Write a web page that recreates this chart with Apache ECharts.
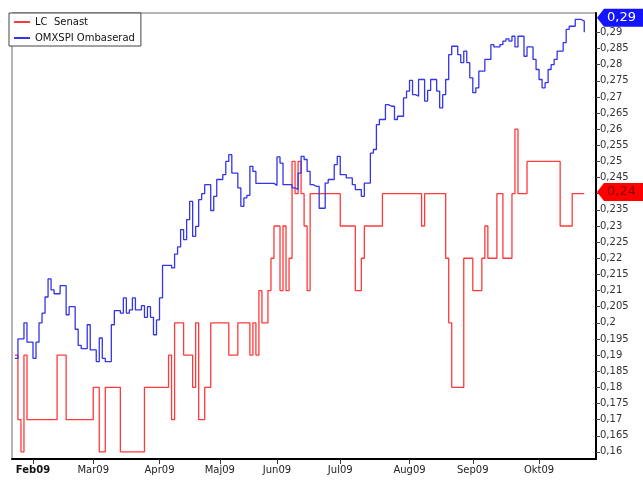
<!DOCTYPE html>
<html>
<head>
<meta charset="utf-8">
<script src="https://cdn.jsdelivr.net/npm/echarts@6/dist/echarts.min.js"></script>
<style>html,body{margin:0;padding:0;background:#fff}#c{width:643px;height:480px}</style>
</head>
<body>
<div id="c"></div>
<script>
// ---- data (one value per trading day, index 0 = first day shown) ----
var seriesNames = ['LC  Senast', 'OMXSPI Ombaserad'];
var monthLabels = ['Feb09','Mar09','Apr09','Maj09','Jun09','Jul09','Aug09','Sep09','Okt09'];
var monthStartIdx = [6, 26, 48, 68, 87, 108, 131, 152, 174];
var yTicks = [0.16,0.165,0.17,0.175,0.18,0.185,0.19,0.195,0.2,0.205,0.21,0.215,0.22,0.225,0.23,0.235,0.24,0.245,0.25,0.255,0.26,0.265,0.27,0.275,0.28,0.285,0.29];

var lcSenast = [
 .19,.17,.16,.19,.17,.17,.17,.17,.17,.17,
 .17,.17,.17,.17,.19,.19,.19,.17,.17,.17,
 .17,.17,.17,.17,.17,.17,.18,.18,.16,.16,
 .18,.18,.18,.18,.18,.16,.16,.16,.16,.16,
 .16,.16,.16,.18,.18,.18,.18,.18,.18,.18,
 .18,.19,.17,.20,.20,.20,.19,.19,.19,.18,
 .20,.17,.17,.18,.18,.20,.20,.20,.20,.20,
 .20,.19,.19,.19,.20,.20,.20,.20,.19,.20,
 .19,.21,.20,.20,.21,.22,.23,.23,.21,.23,
 .21,.22,.25,.24,.25,.24,.23,.21,.24,.24,
 .24,.24,.24,.24,.24,.24,.24,.24,.23,.23,
 .23,.23,.23,.21,.21,.22,.23,.23,.23,.23,
 .23,.23,.24,.24,.24,.24,.24,.24,.24,.24,
 .24,.24,.24,.24,.24,.23,.24,.24,.24,.24,
 .24,.24,.24,.22,.20,.18,.18,.18,.18,.22,
 .22,.22,.21,.21,.21,.22,.23,.22,.22,.22,
 .24,.24,.22,.22,.22,.24,.26,.24,.24,.24,
 .25,.25,.25,.25,.25,.25,.25,.25,.25,.25,
 .25,.23,.23,.23,.23,.24,.24,.24,.24,.24
];

var omxspi = [
 .189,.195,.195,.200,.194,.194,.189,.194,.200,.203,
 .208,.2136,.2102,.209,.209,.2115,.2115,.2025,.205,.205,
 .198,.193,.192,.192,.1994,.1916,.1916,.188,.1953,.189,
 .188,.188,.1994,.2038,.2038,.203,.2077,.203,.204,.2077,
 .204,.204,.2053,.2017,.205,.2017,.1963,.2009,.2077,.2178,
 .2178,.2178,.217,.2213,.2235,.2289,.2258,.232,.2376,.2268,
 .2299,.2382,.24,.2428,.2428,.2348,.2392,.2444,.2444,.2459,
 .25,.2521,.2464,.2464,.2418,.2361,.2387,.2395,.2485,.2469,
 .2432,.2432,.2432,.2432,.2432,.2432,.2426,.2514,.2495,.2428,
 .2428,.2428,.2418,.2413,.2464,.2516,.2506,.2469,.2428,.2423,
 .2423,.2355,.2355,.2433,.2444,.2444,.249,.2516,.2459,.2459,
 .2449,.2449,.2428,.2413,.2413,.2392,.2433,.2433,.2526,.2537,
 .2614,.263,.263,.2676,.2671,.2671,.263,.264,.264,.2697,
 .2718,.2751,.2707,.2702,.2754,.2754,.2687,.272,.2754,.2754,
 .2718,.2666,.2707,.2754,.2831,.2857,.2857,.2831,.2806,.2842,
 .2806,.2759,.2713,.2728,.278,.278,.2816,.2816,.2862,.2855,
 .2855,.2862,.2873,.288,.2873,.2888,.2855,.2888,.2888,.2826,
 .2855,.2855,.2816,.2785,.2754,.2728,.2744,.2785,.28,.2816,
 .2842,.2842,.2868,.2909,.2919,.2919,.294,.294,.2935,.290
];

// last-value tags shown on the right axis
var tagTexts = ['0,24', '0,29'];
var tagValues = [0.2405, 0.2945];

var seriesColors = ['#ff3a3a', '#3434e8'];
var tagColors = ['#ff0000', '#1414ff'];
var tagTextColors = ['#8a0000', '#ffffff'];

function toPairs(arr){ return arr.map(function(v,i){ return [i, v]; }); }
function fmt(v){ return String(+v.toFixed(3)).replace('.', ','); }

var chart = echarts.init(document.getElementById('c'), null, {renderer:'canvas'});
var FONT = 'DejaVu Sans';

var option = {
  animation: false,
  backgroundColor: '#ffffff',
  grid: { left: 12, right: 47, top: 13, bottom: 21, show: true, borderColor: '#6a6a6a', borderWidth: 1, backgroundColor: '#ffffff' },
  legend: {
    data: seriesNames, orient: 'vertical', left: 9, top: 13,
    backgroundColor: '#ffffff', borderColor: '#444', borderWidth: 1, borderRadius: 0,
    padding: [2, 6, 1, 5], itemGap: 2, itemWidth: 16, itemHeight: 2, icon: 'rect',
    textStyle: { fontFamily: FONT, fontSize: 10, color: '#111', lineHeight: 14 }
  },
  xAxis: {
    type: 'value', min: -0.97, max: 192.9,
    splitLine: { show: false },
    axisLine: { show: true, onZero: false, lineStyle: { color: '#000', width: 2 } },
    axisTick: { show: true, length: 5, lineStyle: { color: '#333' }, customValues: monthStartIdx },
    axisLabel: {
      customValues: monthStartIdx, margin: 6, fontFamily: FONT, fontSize: 10, color: '#222',
      formatter: function(v){
        var k = monthStartIdx.indexOf(Math.round(v));
        if (k < 0) return '';
        return k === 0 ? '{b|' + monthLabels[k] + '}' : monthLabels[k];
      },
      rich: { b: { fontWeight: 'bold', fontFamily: FONT, fontSize: 10, color: '#111' } }
    }
  },
  yAxis: {
    type: 'value', position: 'right', min: 0.1578, max: 0.296, scale: true,
    splitLine: { show: false },
    axisLine: { show: true, onZero: false, lineStyle: { color: '#000', width: 2 } },
    axisTick: { show: true, length: 4, inside: false, lineStyle: { color: '#444' }, customValues: yTicks },
    axisLabel: { customValues: yTicks, margin: 4, fontFamily: FONT, fontSize: 10, color: '#333', formatter: fmt }
  },
  series: [
    { name: seriesNames[0], type: 'line', step: 'end', symbol: 'none', data: toPairs(lcSenast),
      lineStyle: { color: seriesColors[0], width: 1.3 }, itemStyle: { color: seriesColors[0] } },
    { name: seriesNames[1], type: 'line', step: 'end', symbol: 'none', data: toPairs(omxspi),
      lineStyle: { color: seriesColors[1], width: 1.3 }, itemStyle: { color: seriesColors[1] } }
  ]
};
chart.setOption(option);

// value tags on the right axis
var gfx = [];
var x0 = chart.convertToPixel({xAxisIndex: 0}, 192.9) + 1;
tagValues.forEach(function(v, k){
  var yc = chart.convertToPixel({yAxisIndex: 0}, v);
  var h = 9;
  gfx.push({ type: 'polygon', z: 100,
    shape: { points: [[x0, yc], [x0 + 7, yc - h], [643, yc - h], [643, yc + h], [x0 + 7, yc + h]] },
    style: { fill: tagColors[k] } });
  gfx.push({ type: 'text', z: 101, x: x0 + 10, y: yc,
    style: { text: tagTexts[k], fill: tagTextColors[k], font: '13px "DejaVu Sans"', verticalAlign: 'middle', align: 'left' } });
});
chart.setOption({ graphic: gfx });
</script>
</body>
</html>
